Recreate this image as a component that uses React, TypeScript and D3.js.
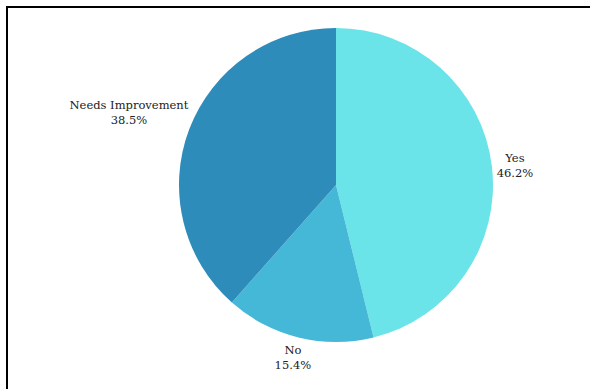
import React from "react";
import * as d3 from "d3";

const categories = ["Yes", "No", "Needs Improvement"];
const values = [6, 2, 5];
const colors = ["#6ae4e9", "#45b8d7", "#2e8cbb"];

const W = 590;
const H = 389;
const cx = 336;
const cy = 185;
const radius = 157;
const labelR = 162;
const fontSize = 11.5;
const fontFamily = "'DejaVu Serif', serif";
const lineH = 15;

function measure(text: string): number {
  const c = document.createElement("canvas");
  const ctx = c.getContext("2d");
  if (!ctx) return text.length * fontSize * 0.6;
  ctx.font = `${fontSize}px ${fontFamily}`;
  return ctx.measureText(text).width;
}

export default function App() {
  const total = d3.sum(values);
  const pie = d3.pie<number>().sort(null).value((d) => d);
  const arcs = pie(values);
  const arc = d3.arc<d3.PieArcDatum<number>>().innerRadius(0).outerRadius(radius);

  return (
    <svg
      width={W}
      height={H}
      style={{ position: "absolute", left: 0, top: 0, display: "block" }}
    >
      <rect x={7} y={7} width={W + 20} height={H + 20} fill="#fff" stroke="#000" strokeWidth={2} />
      <g transform={`translate(${cx},${cy})`}>
        {arcs.map((a, i) => (
          <path key={i} d={arc(a) || ""} fill={colors[i]} />
        ))}
        {arcs.map((a, i) => {
          const mid = (a.startAngle + a.endAngle) / 2;
          const sx = Math.sin(mid);
          const cyy = -Math.cos(mid);
          const pct = ((values[i] / total) * 100).toFixed(1) + "%";
          const name = categories[i];
          const w = Math.max(measure(name), measure(pct));
          const h = lineH * 2;
          const vAlign = Math.sign(cyy) * Math.min(1, Math.max(0, (Math.abs(cyy) - 0.15) / 0.2));
          const x = labelR * sx + (w / 2) * sx;
          const y = labelR * cyy + (h / 2) * vAlign;
          return (
            <text
              key={"t" + i}
              x={x}
              y={y - lineH / 2 + 4}
              textAnchor="middle"
              fontFamily={fontFamily}
              fontSize={fontSize}
              fill="#222"
            >
              <tspan x={x} dy={0}>{name}</tspan>
              <tspan x={x} dy={lineH}>{pct}</tspan>
            </text>
          );
        })}
      </g>
    </svg>
  );
}
